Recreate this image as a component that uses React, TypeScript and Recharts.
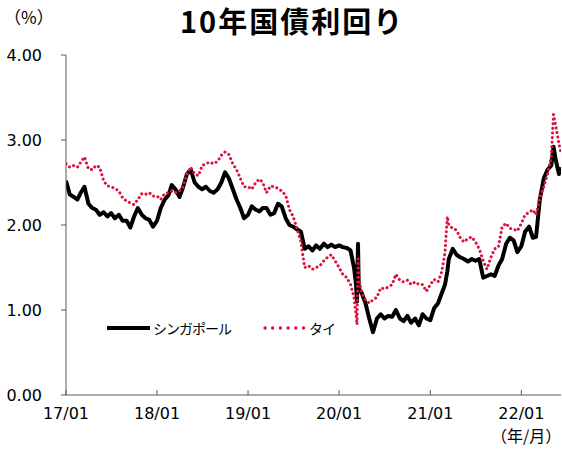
import { LineChart, Line, XAxis, YAxis, Legend } from "recharts";

// semi-monthly samples (extra points around spikes)
const dates = [
  "2017-01-01", "2017-01-16", "2017-02-01", "2017-02-16", "2017-03-01", "2017-03-16",
  "2017-04-01", "2017-04-16", "2017-05-01", "2017-05-16", "2017-06-01", "2017-06-16",
  "2017-07-01", "2017-07-16", "2017-08-01", "2017-08-16", "2017-09-01", "2017-09-16",
  "2017-10-01", "2017-10-16", "2017-11-01", "2017-11-16", "2017-12-01", "2017-12-16",
  "2018-01-01", "2018-01-16", "2018-02-01", "2018-02-16", "2018-03-01", "2018-03-16",
  "2018-04-01", "2018-04-16", "2018-05-01", "2018-05-16", "2018-06-01", "2018-06-16",
  "2018-07-01", "2018-07-16", "2018-08-01", "2018-08-16", "2018-09-01", "2018-09-16",
  "2018-10-01", "2018-10-16", "2018-11-01", "2018-11-16", "2018-12-01", "2018-12-16",
  "2019-01-01", "2019-01-16", "2019-02-01", "2019-02-16", "2019-03-01", "2019-03-16",
  "2019-04-01", "2019-04-16", "2019-05-01", "2019-05-16", "2019-06-01", "2019-06-16",
  "2019-07-01", "2019-07-16", "2019-08-01", "2019-08-16", "2019-09-01", "2019-09-16",
  "2019-10-01", "2019-10-16", "2019-11-01", "2019-11-16", "2019-12-01", "2019-12-16",
  "2020-01-01", "2020-01-16", "2020-02-01", "2020-02-16", "2020-03-01", "2020-03-09",
  "2020-03-13", "2020-03-17", "2020-03-20", "2020-04-01", "2020-04-16", "2020-05-01",
  "2020-05-16", "2020-06-01", "2020-06-16", "2020-07-01", "2020-07-16", "2020-08-01",
  "2020-08-16", "2020-09-01", "2020-09-16", "2020-10-01", "2020-10-16", "2020-11-01",
  "2020-11-16", "2020-12-01", "2020-12-16",
  "2021-01-01", "2021-01-16", "2021-02-01", "2021-02-16", "2021-03-01", "2021-03-10",
  "2021-03-16", "2021-04-01", "2021-04-16", "2021-05-01", "2021-05-16", "2021-06-01",
  "2021-06-16", "2021-07-01", "2021-07-16", "2021-08-01", "2021-08-16", "2021-09-01",
  "2021-09-16", "2021-10-01", "2021-10-16", "2021-11-01", "2021-11-16", "2021-12-01",
  "2021-12-16",
  "2022-01-01", "2022-01-16", "2022-02-01", "2022-02-16", "2022-03-01", "2022-03-16",
  "2022-04-01", "2022-04-16", "2022-05-01", "2022-05-10", "2022-05-20", "2022-06-01",
  "2022-06-09",
];

const singapore = [
  // 2017
  2.52, 2.36, 2.33, 2.3, 2.38, 2.45, 2.25, 2.2, 2.18, 2.12, 2.15, 2.1,
  2.14, 2.08, 2.12, 2.05, 2.05, 1.97, 2.1, 2.2, 2.12, 2.08, 2.06, 1.98,
  // 2018
  2.05, 2.2, 2.3, 2.35, 2.47, 2.42, 2.33, 2.45, 2.6, 2.65, 2.5, 2.45,
  2.42, 2.45, 2.4, 2.38, 2.42, 2.5, 2.62, 2.55, 2.42, 2.3, 2.2, 2.08,
  // 2019
  2.12, 2.22, 2.18, 2.16, 2.2, 2.2, 2.12, 2.14, 2.25, 2.22, 2.08, 2.0,
  1.98, 1.95, 1.92, 1.72, 1.75, 1.7, 1.76, 1.72, 1.78, 1.74, 1.77, 1.74,
  // 2020
  1.76, 1.74, 1.73, 1.7, 1.5, 1.3, 1.1, 1.78, 1.25, 1.2, 1.08, 0.9,
  0.74, 0.9, 0.95, 0.9, 0.93, 0.92, 1.0, 0.9, 0.87, 0.93, 0.85, 0.9,
  0.82, 0.95, 0.9,
  // 2021
  0.88, 1.02, 1.08, 1.2, 1.3, 1.45, 1.6, 1.72, 1.65, 1.62, 1.6, 1.57,
  1.6, 1.58, 1.6, 1.38, 1.4, 1.42, 1.4, 1.52, 1.6, 1.78, 1.85, 1.82,
  1.68,
  // 2022
  1.75, 1.92, 1.98, 1.85, 1.86, 2.3, 2.55, 2.65, 2.7, 2.92, 2.75, 2.6,
  2.68,
];

const thailand = [
  // 2017
  2.72, 2.68, 2.7, 2.68, 2.74, 2.8, 2.66, 2.65, 2.7, 2.68, 2.52, 2.46,
  2.45, 2.43, 2.4, 2.32, 2.28, 2.26, 2.24, 2.3, 2.37, 2.36, 2.38, 2.34,
  // 2018
  2.34, 2.3, 2.37, 2.38, 2.4, 2.38, 2.4, 2.45, 2.6, 2.68, 2.6, 2.58,
  2.7, 2.72, 2.74, 2.72, 2.75, 2.82, 2.86, 2.83, 2.72, 2.65, 2.55, 2.45,
  // 2019
  2.45, 2.42, 2.5, 2.54, 2.5, 2.38, 2.46, 2.45, 2.43, 2.4, 2.35, 2.18,
  2.1, 1.96, 1.8, 1.5, 1.52, 1.48, 1.5, 1.52, 1.58, 1.62, 1.65, 1.58,
  // 2020
  1.5, 1.42, 1.38, 1.3, 1.15, 0.95, 0.83, 1.6, 1.38, 1.2, 1.12, 1.08,
  1.12, 1.15, 1.26, 1.25, 1.27, 1.3, 1.42, 1.35, 1.33, 1.35, 1.3, 1.33,
  1.3, 1.3, 1.22,
  // 2021
  1.3, 1.36, 1.33, 1.45, 1.68, 2.1, 2.0, 1.96, 1.94, 1.85, 1.8, 1.84,
  1.86, 1.8, 1.72, 1.58, 1.48, 1.62, 1.72, 1.74, 1.98, 2.02, 1.96, 1.95,
  1.93,
  // 2022
  2.02, 2.12, 2.15, 2.18, 2.12, 2.32, 2.45, 2.6, 2.8, 3.3, 3.15, 2.95,
  2.85,
];

const tickDates = ["2017-01-01", "2018-01-01", "2019-01-01", "2020-01-01", "2021-01-01", "2022-01-01"];
const tickLabels = ["17/01", "18/01", "19/01", "20/01", "21/01", "22/01"];
const yTicks = [0, 1, 2, 3, 4];

const FONT = "'DejaVu Sans', 'Noto Sans CJK JP', sans-serif";
const JP = "'Noto Sans CJK JP', sans-serif";
const FRAME = "#595959";
const RED = "#dc143c";

const data = dates.map((d, i) => ({
  t: Date.parse(d),
  sg: singapore[i],
  th: thailand[i],
}));
const xTicks = tickDates.map((d) => Date.parse(d));
const xDomain = [data[0].t, data[data.length - 1].t];

const XTick = (props: any) => {
  const { x, y, payload } = props;
  const i = xTicks.indexOf(payload.value);
  return (
    <g>
      <line x1={x} x2={x} y1={y} y2={y - 5} stroke={FRAME} />
      <text x={x} y={y + 24} textAnchor="middle" fontSize={16} fill="#000" fontFamily={FONT}>
        {tickLabels[i]}
      </text>
    </g>
  );
};

const renderLegend = () => (
  <div style={{ display: "flex", alignItems: "center", fontFamily: JP, fontSize: 14, letterSpacing: -1, color: "#000" }}>
    <svg width={43} height={10}>
      <line x1={0} x2={43} y1={5} y2={5} stroke="#000" strokeWidth={4} />
    </svg>
    <span style={{ marginLeft: 3, width: 110 }}>シンガポール</span>
    <svg width={42} height={10}>
      {[0, 1, 2, 3, 4, 5].map((k) => (
        <circle key={k} cx={2 + k * 7.7} cy={5} r={1.7} fill={RED} />
      ))}
    </svg>
    <span style={{ marginLeft: 4 }}>タイ</span>
  </div>
);

export default function App() {
  return (
    <div style={{ position: "relative", width: 562, height: 451, background: "#fff", overflow: "hidden" }}>
      <style>{"body{margin:0}"}</style>
      <div
        style={{
          position: "absolute",
          left: 180,
          top: 1,
          fontFamily: JP,
          fontSize: 29,
          fontWeight: "bold",
          letterSpacing: 2,
          lineHeight: "38px",
          whiteSpace: "nowrap",
        }}
      >
        10年国債利回り
      </div>
      <div style={{ position: "absolute", left: 4, top: 6, fontFamily: JP, fontSize: 17, lineHeight: "22px" }}>
        （%）
      </div>
      <div style={{ position: "absolute", left: 491, top: 425, fontFamily: JP, fontSize: 16, lineHeight: "21px" }}>
        （年/月）
      </div>
      <LineChart width={562} height={451} data={data} margin={{ top: 55, right: 1, bottom: 0, left: 0 }}>
        <XAxis
          dataKey="t"
          type="number"
          domain={xDomain}
          ticks={xTicks}
          interval={0}
          height={56}
          tickSize={0}
          tickMargin={0}
          tickLine={false}
          tick={<XTick />}
          axisLine={{ stroke: FRAME }}
          allowDataOverflow
        />
        <XAxis
          xAxisId="top"
          dataKey="t"
          type="number"
          domain={xDomain}
          orientation="top"
          height={0}
          tick={false}
          tickLine={false}
          axisLine={{ stroke: FRAME }}
        />
        <YAxis
          domain={[0, 4]}
          ticks={yTicks}
          interval={0}
          width={66}
          tickSize={5}
          tickMargin={19}
          tickFormatter={(v: number) => v.toFixed(2)}
          tick={{ fontSize: 16, fill: "#000", fontFamily: FONT }}
          tickLine={{ stroke: FRAME }}
          axisLine={{ stroke: FRAME }}
        />
        <YAxis
          yAxisId="right"
          orientation="right"
          domain={[0, 4]}
          width={0}
          tick={false}
          tickLine={false}
          axisLine={{ stroke: FRAME }}
        />
        <Legend
          layout="horizontal"
          align="center"
          verticalAlign="middle"
          content={renderLegend}
          wrapperStyle={{ left: 107, top: 318, width: 260 }}
        />
        <Line
          dataKey="sg"
          name="シンガポール"
          stroke="#000"
          strokeWidth={4}
          strokeLinejoin="round"
          dot={false}
          isAnimationActive={false}
        />
        <Line
          dataKey="th"
          name="タイ"
          stroke={RED}
          strokeWidth={3}
          strokeDasharray="0.1 4.5"
          strokeLinecap="round"
          dot={false}
          isAnimationActive={false}
        />
      </LineChart>
    </div>
  );
}
